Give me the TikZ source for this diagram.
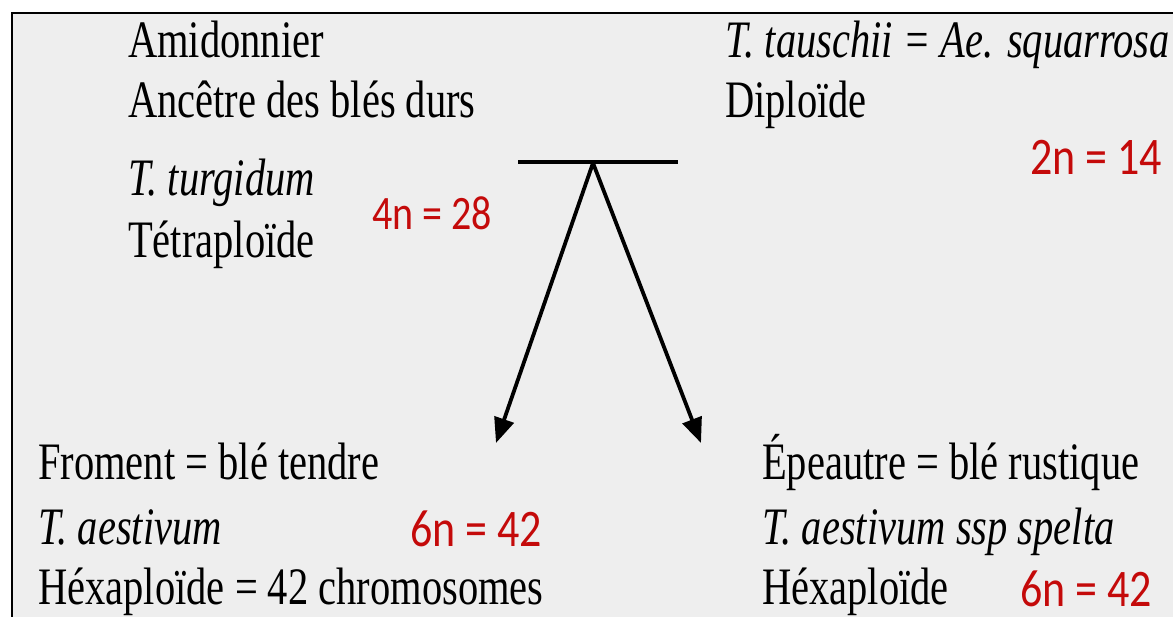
\documentclass[tikz,border=0pt]{standalone}
\usepackage{fontspec}
\setmainfont{Liberation Serif}
\newfontfamily\chiffres{Carlito}
\usepackage{xcolor}
\usetikzlibrary{arrows.meta}

\definecolor{fondgris}{RGB}{238,238,238}
\definecolor{rougenb}{RGB}{196,10,10}

\begin{document}
\begin{tikzpicture}[x=1pt, y=-1pt, >={Triangle[length=25pt,width=20pt]},
    texte/.style={anchor=base west, inner sep=0pt, yscale=1.3,
        font=\fontsize{40.5}{48}\selectfont},
    nombre/.style={anchor=base west, inner sep=0pt, yscale=1.2, text=rougenb,
        font=\chiffres\fontsize{44}{52}\selectfont},
    fleche/.style={->, line width=3.8pt}]
    \useasboundingbox (0,0) rectangle (1176,617);

    % fond et cadre
    \fill[white] (0,0) rectangle (1176,617);
    \fill[fondgris] (12,13) rectangle (1173,617);
    \draw[line width=2pt] (12,617) -- (12,13) -- (1173,13);

    % parents
    \node[texte] (amid) at (128,58) {Amidonnier};
    \node[texte] (ancetre) at (128,118) {Ancêtre des blés durs};
    \node[texte] (turg) at (128,196) {\itshape T. turgidum};
    \node[texte] (tetra) at (128,258) {Tétraploïde};
    \node[nombre, font=\chiffres\fontsize{40}{48}\selectfont] (tetranum) at (372,230) {4n = 28};

    \node[texte] (tausch) at (725,58) {\itshape T. tauschii = Ae. squarrosa};
    \node[texte] (diplo) at (725,118) {Diploïde};
    \node[nombre] (diplonum) at (1030,175) {2n = 14};

    % croisement
    \coordinate (barg) at (518,162);
    \coordinate (bard) at (678,162);
    \coordinate (croix) at (593,163);
    \coordinate (pointeg) at (496,443);
    \coordinate (pointed) at (701,443);
    \draw[line width=4pt] (barg) -- (bard);
    \draw[fleche] (croix) -- (pointeg);
    \draw[fleche] (croix) -- (pointed);

    % descendants
    \node[texte] (froment) at (38,480) {Froment = blé tendre};
    \node[texte] (aest) at (38,544) {\itshape T. aestivum};
    \node[texte] (hexa) at (38,604) {Héxaploïde = 42 chromosomes};
    \node[nombre] (hexanum) at (410,547) {6n = 42};

    \node[texte] (epeautre) at (762,480) {Épeautre = blé rustique};
    \node[texte] (spelta) at (762,544) {\itshape T. aestivum ssp spelta};
    \node[texte] (hexasp) at (762,604) {Héxaploïde};
    \node[nombre] (speltanum) at (1020,606) {6n = 42};
\end{tikzpicture}
\end{document}
